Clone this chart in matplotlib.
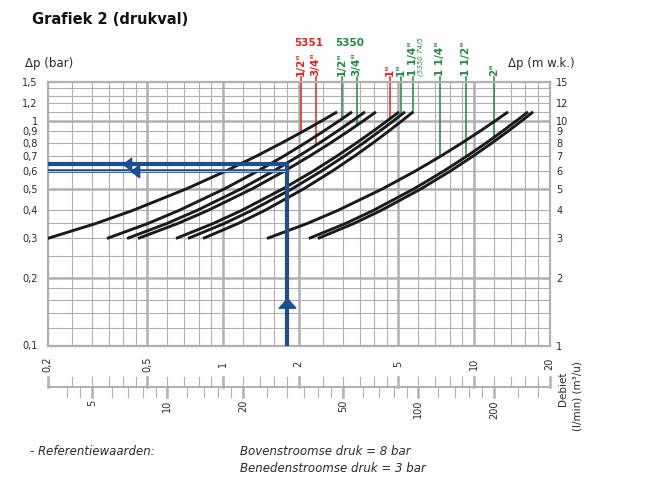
import matplotlib
matplotlib.use("Agg")
import matplotlib.pyplot as plt
from matplotlib.transforms import blended_transform_factory as blend
from matplotlib.path import Path
from matplotlib.ticker import NullLocator

plt.rcParams['font.family'] = ['DejaVu Sans']

W, H = 646, 490

# ---------------- data ----------------
# horizontal grid levels (bar) at which each curve's flow was read
dp_levels = [0.30, 0.35, 0.40, 0.50, 0.60, 0.70, 0.80, 0.90, 1.00, 1.10]
# flow (m3/h) where each curve crosses those levels
q_c1 = [0.20, 0.312, 0.437, 0.717, 1.028, 1.363, 1.716, 2.082, 2.462, 2.85]
q_c2 = [0.345, 0.503, 0.668, 1.016, 1.379, 1.752, 2.129, 2.507, 2.889, 3.27]
q_c3 = [0.415, 0.598, 0.788, 1.184, 1.592, 2.007, 2.426, 2.845, 3.263, 3.68]
q_c4 = [0.459, 0.661, 0.871, 1.310, 1.761, 2.220, 2.683, 3.146, 3.609, 4.07]
q_c5 = [0.65, 0.915, 1.186, 1.737, 2.293, 2.850, 3.403, 3.951, 4.493, 5.03]
q_c6 = [0.726, 1.013, 1.302, 1.888, 2.474, 3.056, 3.631, 4.198, 4.760, 5.31]
q_c7 = [0.833, 1.150, 1.467, 2.102, 2.731, 3.350, 3.959, 4.557, 5.143, 5.72]
q_c8 = [1.498, 2.168, 2.867, 4.332, 5.851, 7.397, 8.958, 10.53, 12.10, 13.67]
q_c9 = [2.20, 3.080, 3.971, 5.779, 7.592, 9.396, 11.19, 12.95, 14.69, 16.42]
q_c10 = [2.39, 3.324, 4.266, 6.169, 8.066, 9.945, 11.80, 13.63, 15.43, 17.20]
curves = [q_c1, q_c2, q_c3, q_c4, q_c5, q_c6, q_c7, q_c8, q_c9, q_c10]

# size marker lines (valve sizes)
marker_q = [2.05, 2.34, 2.98, 3.41, 4.63, 5.12, 5.70, 7.32, 9.30, 12.02]
marker_dp = [0.885, 0.78, 1.02, 0.955, 1.03, 1.065, 1.09, 0.70, 0.70, 0.815]
marker_label = ['1/2"', '3/4"', '1/2"', '3/4"', '1"', '1"', '1 1/4"', '1 1/4"', '1 1/2"', '2"']
marker_series = ['5351', '5351', '5350', '5350', '5351', '5350', '5350', '5350', '5350', '5350']

# example reading (blue)
ex_q = 1.80
ex_dp_thick = 0.644
ex_dp_thin = 0.60
ex_q_thin_end = 1.77
ex_arrow_q_thick = 0.414
ex_arrow_q_thin = 0.448
ex_arrow_dp_up = 0.1554

# axes ticks / grid
x_grid = [0.2, 0.25, 0.3, 0.35, 0.4, 0.45, 0.5, 0.6, 0.7, 0.8, 0.9, 1, 1.2, 1.4, 1.6, 1.8,
          2, 2.5, 3, 3.5, 4, 4.5, 5, 6, 7, 8, 9, 10, 12, 14, 16, 18, 20]
x_major = [0.5, 1, 2, 5, 10]
y_grid = [0.1, 0.12, 0.14, 0.16, 0.18, 0.2, 0.25, 0.3, 0.35, 0.4, 0.5, 0.6, 0.7, 0.8,
          0.9, 1, 1.1, 1.2, 1.3, 1.4, 1.5]
y_major = [0.2, 0.5, 1]
y_ticks = [1.5, 1.2, 1, 0.9, 0.8, 0.7, 0.6, 0.5, 0.4, 0.3, 0.2, 0.1]
y_ticklabels = ['1,5', '1,2', '1', '0,9', '0,8', '0,7', '0,6', '0,5', '0,4', '0,3', '0,2', '0,1']
mwk_ticks = [15, 12, 10, 9, 8, 7, 6, 5, 4, 3, 2, 1]
m3h_labels = {0.2: '0,2', 0.5: '0,5', 1: '1', 2: '2', 5: '5', 10: '10', 20: '20'}
m3h_major = [0.2, 0.5, 1, 2, 5, 10, 20]
lmin_ticks = [4, 4.5, 5, 6, 7, 8, 9, 10, 12, 14, 16, 18, 20, 25, 30, 35, 40, 45, 50,
              60, 70, 80, 90, 100, 120, 140, 160, 180, 200, 250, 300]
lmin_major = [5, 10, 20, 50, 100, 200]
lmin_labels = {5: '5', 10: '10', 20: '20', 50: '50', 100: '100', 200: '200'}

# ---------------- style ----------------
GRID = '#b0b0b0'
BLUE = '#1b4f93'
RED = '#e2231a'
GREEN = '#1e8a3c'
CURVE = '#1a1a1a'
TXT = '#2a2a2a'

fig = plt.figure(figsize=(W / 100, H / 100), dpi=100)
L, R, T, B = 47.5, 549.5, 81.7, 345.5
ax = fig.add_axes([L / W, (H - B) / H, (R - L) / W, (B - T) / H])
ax.set_xscale('log')
ax.set_yscale('log')
ax.set_xlim(0.2, 20)
ax.set_ylim(0.1, 1.5)
ax.xaxis.set_major_locator(NullLocator())
ax.xaxis.set_minor_locator(NullLocator())
ax.yaxis.set_minor_locator(NullLocator())
ax.set_yticks(y_ticks)
ax.set_yticklabels(y_ticklabels)
ax.tick_params(axis='y', length=0, pad=7, labelsize=7, labelcolor=TXT)
for s in ax.spines.values():
    s.set_color(GRID)
    s.set_linewidth(1.6)

for v in x_grid:
    ax.axvline(v, color=GRID, lw=1.8 if v in x_major else 0.8, zorder=1)
for v in y_grid:
    ax.axhline(v, color=GRID, lw=1.8 if v in y_major else 0.8, zorder=1)

# right axis (m w.k.)
axr = ax.twinx()
axr.set_yscale('log')
axr.set_ylim(1, 15)
axr.yaxis.set_minor_locator(NullLocator())
axr.set_yticks(mwk_ticks)
axr.set_yticklabels([str(v) for v in mwk_ticks])
axr.tick_params(axis='y', length=0, pad=5, labelsize=7, labelcolor=TXT)
for s in axr.spines.values():
    s.set_visible(False)

# curves
for q in curves:
    ax.plot(q, dp_levels, color=CURVE, lw=2.1, zorder=3, solid_capstyle='butt',
            solid_joinstyle='round')

# marker lines + labels
tr_lab = blend(ax.transData, ax.transAxes)
for q, dp, lab, ser in zip(marker_q, marker_dp, marker_label, marker_series):
    c = RED if ser == '5351' else GREEN
    ax.plot([q, q], [dp, 1.58], color=c, lw=1.1, zorder=2, clip_on=False)
    ax.text(q, 1.0235, lab, rotation=90, ha='center', va='bottom', color=c,
            fontsize=7.5, fontweight='bold', transform=tr_lab)
ax.text(5.70 * 1.05, 1.0235, '(5350 74/5', rotation=90, ha='left', va='bottom',
        color=GREEN, fontsize=5, style='italic', transform=tr_lab)
fig.text(309 / W, 1 - 43 / H, '5351', color=RED, fontsize=7.5, fontweight='bold',
         ha='center', va='center')
fig.text(349.5 / W, 1 - 43 / H, '5350', color=GREEN, fontsize=7.5, fontweight='bold',
         ha='center', va='center')

# blue example reading
ax.plot([0.2, ex_q], [ex_dp_thick, ex_dp_thick], color=BLUE, lw=3.0, zorder=4,
        solid_capstyle='projecting')
ax.plot([ex_q, ex_q], [0.1, ex_dp_thick], color=BLUE, lw=3.0, zorder=4,
        solid_capstyle='projecting')
ax.plot([0.2, ex_q_thin_end], [ex_dp_thin, ex_dp_thin], color=BLUE, lw=2.6, zorder=4,
        solid_capstyle='butt')
ax.plot([0.2, ex_q_thin_end], [ex_dp_thin, ex_dp_thin], color='#b8c2d0', lw=0.7, zorder=4.1)
left_tri = Path([(-4, 0), (4, 6), (4, -6), (-4, 0)], closed=True)
up_tri = Path([(0, 4.5), (-8, -4.5), (8, -4.5), (0, 4.5)], closed=True)
ax.plot([ex_arrow_q_thick], [ex_dp_thick], marker=left_tri, ms=9, color=BLUE, zorder=5, lw=0)
ax.plot([ex_arrow_q_thin], [ex_dp_thin], marker=left_tri, ms=9, color=BLUE, zorder=5, lw=0)
ax.plot([ex_q], [ex_arrow_dp_up], marker=up_tri, ms=12, color=BLUE, zorder=5, lw=0)

# axis titles
fig.text(25 / W, 1 - 63 / H, 'Δp (bar)', fontsize=8.5, color=TXT, ha='left', va='center')
fig.text(508 / W, 1 - 63 / H, 'Δp (m w.k.)', fontsize=8.5, color=TXT, ha='left', va='center')
fig.text(32 / W, 1 - 20 / H, 'Grafiek 2 (drukval)', fontsize=10.5, fontweight='bold',
         color='#111111', ha='left', va='center')

# bottom double scale
trb = blend(ax.transData, fig.transFigure)
yb = (H - 387) / H
tl = 10 / H
ax.plot([0.2, 20], [yb, yb], color=GRID, lw=1.4, transform=trb, clip_on=False)
for q in x_grid:
    ax.plot([q, q], [yb, yb + tl], color=GRID, lw=1.8 if q in m3h_major else 0.8,
            transform=trb, clip_on=False)
for v in lmin_ticks:
    q = v * 0.06
    ax.plot([q, q], [yb, yb - tl], color=GRID, lw=1.8 if v in lmin_major else 0.8,
            transform=trb, clip_on=False)
for q, lab in m3h_labels.items():
    ax.text(q, (H - 364) / H, lab, rotation=90, ha='center', va='center', fontsize=7,
            color=TXT, transform=trb)
for v, lab in lmin_labels.items():
    ax.text(v * 0.06, (H - 400) / H, lab, rotation=90, ha='center', va='top', fontsize=7,
            color=TXT, transform=trb)
fig.text(563 / W, 1 - 389 / H, 'Debiet', rotation=90, ha='center', va='center',
         fontsize=7.5, color=TXT)
fig.text(578 / W, 1 - 396 / H, '(l/min) (m³/u)', rotation=90, ha='center', va='center',
         fontsize=7.5, color=TXT)

# footnote
fig.text(30 / W, 1 - 451 / H, '- Referentiewaarden:', style='italic', fontsize=8.5,
         color=TXT, ha='left', va='center')
fig.text(240 / W, 1 - 451 / H, 'Bovenstroomse druk = 8 bar', style='italic', fontsize=8.5,
         color=TXT, ha='left', va='center')
fig.text(240 / W, 1 - 468 / H, 'Benedenstroomse druk = 3 bar', style='italic', fontsize=8.5,
         color=TXT, ha='left', va='center')

fig.savefig('out.png', dpi=100)
